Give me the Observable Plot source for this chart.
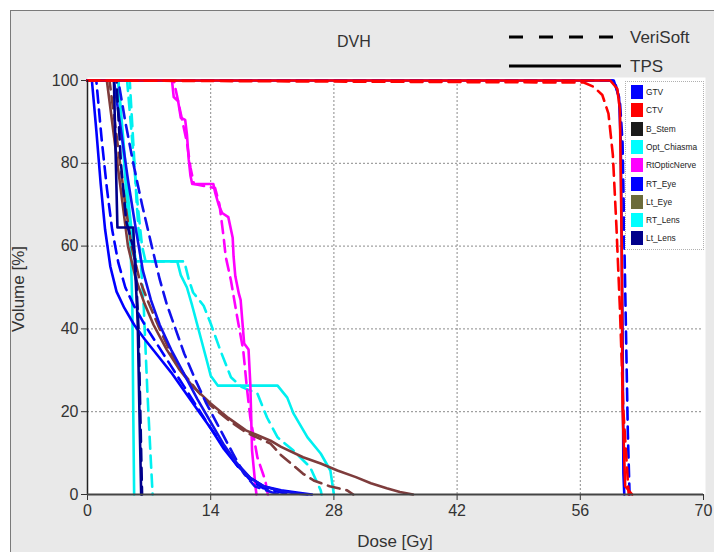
<!DOCTYPE html>
<html><head><meta charset="utf-8">
<script src="https://cdn.jsdelivr.net/npm/d3@7"></script>
<script src="https://cdn.jsdelivr.net/npm/@observablehq/plot@0.6"></script>
<style>
body{margin:0;background:#fff;}
#wrap{position:relative;width:714px;height:552px;overflow:hidden;font-family:"Liberation Sans Narrow","Arial Narrow","Liberation Sans",Arial,sans-serif;}
#panel{position:absolute;left:10px;top:10px;right:0;bottom:0;background:#e9e9e9;border-left:1px solid #7a7a7a;border-top:1px solid #7a7a7a;}
#chart{position:absolute;left:0;top:0;}
.t{position:absolute;color:#333;white-space:nowrap;}
#legend{position:absolute;left:625px;top:81px;width:77px;height:167px;background:#fff;border:1px dotted #b0b0b0;}
.li{position:absolute;left:5px;height:14px;font-size:9.5px;line-height:14px;color:#222;white-space:nowrap;}
.li span.tx{display:inline-block;transform:scaleX(0.88);transform-origin:left center;}
.sw{display:inline-block;width:12px;height:14px;vertical-align:top;margin-right:3px;}
</style></head>
<body><div id="wrap"><div id="panel"></div><div id="chart"></div></div>
<script>
// ---- data (dose Gy, volume %) ----
const xTicks = [0, 14, 28, 42, 56, 70];
const yTicks = [0, 20, 40, 60, 80, 100];
const gridXTicks = [14, 28, 42, 56];
const gridYTicks = [20, 40, 60, 80];

const seriesNames = ["GTV","CTV","B_Stem","Opt_Chiasma","RtOpticNerve","RT_Eye","Lt_Eye","RT_Lens","Lt_Lens"];
const legendColors = ["#0000ff","#ff0000","#1a1a1a","#00ffff","#ff00ff","#0000ff","#6b6b3b","#00ffff","#00008b"];
const lineColors = {GTV:"#0000ff",CTV:"#ff0000",B_Stem:"#7e3c3c",Opt_Chiasma:"#00f0f0",RtOpticNerve:"#ff00ff",RT_Eye:"#0000ff",Lt_Eye:"#1010ee",RT_Lens:"#00f0f0",Lt_Lens:"#00008b"};

const rtEyeTPS = [[0,100],[0.5,100],[1,88],[1.5,75],[2,64],[2.6,55],[3.3,49],[4.2,45],[5.3,41],[6.5,37.5],[8,33.5],[9.5,29.5],[11,25],[12.5,20.5],[14,16],[15.5,11],[17,7],[18.5,4],[20,2],[22,1],[24,0.4],[25.5,0]];
const rtEyeVS  = [[0,100],[1,100],[1.6,86],[2.2,74],[2.8,64],[3.5,56],[4.3,50],[5.3,45.5],[6.5,41],[8,36],[9.5,31],[11,26],[12.5,21],[14,16],[15.5,11.5],[17,7],[18.5,3.5],[20,1.5],[22,0.5],[23,0]];
const ltEyeTPS = [[0,100],[3,100],[3.8,88],[4.6,76],[5.5,64],[6.3,54],[7.2,47],[8.2,41],[9.5,35],[11,29],[12.5,23],[14,17.5],[15.5,12],[17,7.5],[18.5,4],[20,2],[22,0.8],[24,0.2],[25,0]];
const ltEyeVS  = [[0,100],[3.5,100],[4.3,90],[5.2,80],[6.2,70],[7.3,60],[8.2,52],[9,46],[10,40],[11,34],[12.2,28],[13.5,22],[15,16],[16.5,10],[17.8,5],[19,2],[21,0.5],[22,0]];
const bStemTPS = [[0,100],[2.2,100],[2.8,90],[3.4,80],[4,70],[4.6,60],[5.5,52],[6.5,46],[7.5,41],[9,35],[10.5,30],[12,26],[14,22],[16,18.5],[18,15.5],[20.8,13],[22,11.5],[24.5,9],[26.5,7.5],[28.4,5.8],[30.5,4.2],[32.2,2.7],[34,1.5],[35.5,0.6],[37,0]];
const bStemVS  = [[0,100],[2.5,100],[3.1,90],[3.7,80],[4.3,70],[5,60],[5.9,52],[7,46],[8.2,40],[9.5,34],[11,29],[12.5,25],[14,21.5],[16,18],[18,15],[20.8,12.3],[22,9.5],[23.4,7],[24.5,5],[25.7,3.4],[27.5,2],[29.5,1],[30.2,0]];
const chiasmaTPS = [[0,100],[3.5,100],[3.9,90],[4.3,80],[4.7,70],[5.1,62],[5.5,56.3],[10.2,56.3],[10.6,53],[11.3,50],[11.9,45.6],[12.8,38.4],[13.6,32],[14,28.7],[14.8,26.3],[21.6,26.3],[22.7,23.4],[23.4,19.6],[25,13.8],[26.5,9.9],[27.6,5.8],[28,0]];
const chiasmaVS  = [[0,100],[4.5,100],[4.9,90],[5.3,80],[5.7,70],[6.2,60],[6.6,56.3],[11,56.3],[11.5,52],[12,48.8],[13.2,45.6],[14,41.3],[15.1,34.8],[16.3,28.3],[17.5,26],[19.3,24.4],[20.4,18.6],[21.6,13.8],[23.4,10.6],[25.3,6.6],[26.5,1],[26.6,0]];
const nerveTPS = [[0,100],[9.6,100],[9.8,96],[10.3,95],[10.6,91],[11.1,90.5],[11.3,87],[11.5,81],[11.7,77],[11.9,75],[14.3,75],[14.5,73],[14.9,70],[15.3,68],[16,67],[16.5,62],[16.6,57.5],[16.8,52.7],[17.2,48.5],[17.4,47],[17.8,36.5],[18.3,35],[18.5,26.8],[18.7,10.6],[19.1,1.7],[19.2,0]];
const nerveVS  = [[0,100],[9.8,100],[10.3,95],[10.8,90],[11.3,85],[11.7,79],[12.1,75],[14.5,74],[15,70],[15.3,65],[15.5,61.6],[15.7,57.5],[16.3,51.7],[17,43],[17.7,34.8],[18.1,26],[18.5,18.6],[19.3,9],[20.2,3.4],[20.4,1],[20.5,0]];
const rtLensTPS = [[0,100],[3.5,100],[4,85],[4.5,70],[4.9,60],[5.1,45],[5.2,20],[5.3,0]];
const rtLensVS  = [[0,100],[4.8,100],[5.2,85],[5.6,70],[6,58],[6.4,45],[6.8,25],[7.2,8],[7.4,0]];
const ltLensTPS = [[0,100],[3,100],[3.4,64.5],[5.2,64.5],[5.4,55],[5.7,42],[5.9,20],[6.1,0]];
const ltLensVS  = [[0,100],[3.3,100],[3.8,80],[4.4,66],[5.4,58],[5.8,40],[6,20],[6.2,0]];
const gtvTPS = [[0,100],[59.8,100],[60.4,96],[60.6,85],[60.8,40],[60.9,5],[61,0]];
const gtvVS  = [[0,100],[59.9,100],[60.5,95],[60.8,85],[61.1,50],[61.4,15],[61.6,0]];
const ctvTPS = [[0,100],[59.4,100],[60.2,98],[60.5,93],[60.7,61],[60.8,21],[61.1,2],[61.9,0]];
const ctvVS  = [[0,100],[56.4,99.5],[57.5,98.5],[58.5,96.5],[59.2,92],[59.7,82],[60.1,65],[60.5,45],[60.9,20],[61.5,0]];

// drawing order: [organ, source, points]
const drawOrder = [
  ["RT_Lens","VeriSoft",rtLensVS],["RT_Lens","TPS",rtLensTPS],
  ["Opt_Chiasma","VeriSoft",chiasmaVS],["Opt_Chiasma","TPS",chiasmaTPS],
  ["RtOpticNerve","VeriSoft",nerveVS],["RtOpticNerve","TPS",nerveTPS],
  ["B_Stem","VeriSoft",bStemVS],["B_Stem","TPS",bStemTPS],
  ["RT_Eye","VeriSoft",rtEyeVS],["RT_Eye","TPS",rtEyeTPS],
  ["Lt_Eye","VeriSoft",ltEyeVS],["Lt_Eye","TPS",ltEyeTPS],
  ["Lt_Lens","VeriSoft",ltLensVS],["Lt_Lens","TPS",ltLensTPS],
  ["GTV","VeriSoft",gtvVS],["GTV","TPS",gtvTPS],
  ["CTV","VeriSoft",ctvVS],["CTV","TPS",ctvTPS]
];

const W = 714, H = 552;
const lineMarks = drawOrder.map(([organ, src, pts]) =>
  Plot.line(pts.map(([d, v]) => ({dose: d, vol: v})), {
    x: "dose", y: "vol", stroke: lineColors[organ], strokeWidth: 2.6,
    strokeDasharray: src === "VeriSoft" ? "12,7" : null, strokeLinejoin: "round"
  })
);

const chart = Plot.plot({
  width: W, height: H,
  marginLeft: 87, marginRight: 11, marginTop: 80, marginBottom: 58,
  style: {background: "transparent", fontFamily: '"Liberation Sans Narrow","Arial Narrow","Liberation Sans",Arial,sans-serif'},
  x: {domain: [0, 70]},
  y: {domain: [0, 100]},
  marks: [
    Plot.frame({fill: "white", stroke: null, insetTop: -3, insetRight: -2}),
    Plot.gridX(gridXTicks, {stroke: "#8a8a8a", strokeOpacity: 1, strokeDasharray: "2,2"}),
    Plot.gridY(gridYTicks, {stroke: "#8a8a8a", strokeOpacity: 1, strokeDasharray: "2,2"}),
    Plot.axisX(xTicks, {tickSize: 6, tickPadding: 4, fontSize: 16, color: "#333", label: null}),
    Plot.axisY(yTicks, {tickSize: 6, tickPadding: 3, fontSize: 16, color: "#333", label: null}),
    ...lineMarks,
    Plot.ruleX([0], {stroke: "#222", strokeWidth: 1.5}),
    Plot.ruleY([0], {stroke: "#444", strokeWidth: 2})
  ]
});
document.getElementById("chart").appendChild(chart);

const wrap = document.getElementById("wrap");
function addText(txt, left, top, size, extra) {
  const d = document.createElement("div");
  d.className = "t"; d.textContent = txt;
  d.style.left = left + "px"; d.style.top = top + "px";
  d.style.fontSize = size + "px"; d.style.lineHeight = size + "px";
  if (extra) Object.assign(d.style, extra);
  wrap.appendChild(d); return d;
}
addText("DVH", 337, 34, 16);
addText("VeriSoft", 630, 29, 17);
addText("TPS", 630, 58, 17);
addText("Dose [Gy]", 395, 533, 17, {transform: "translateX(-50%)"});
addText("Volume [%]", 18, 289, 17, {transform: "translate(-50%,-50%) rotate(-90deg)"});

// line-style key
const ns = "http://www.w3.org/2000/svg";
const key = document.createElementNS(ns, "svg");
key.setAttribute("width", W); key.setAttribute("height", 80);
key.style.position = "absolute"; key.style.left = "0"; key.style.top = "0";
[["VeriSoft", 37, "14,16"], ["TPS", 66, null]].forEach(([n, y, dash]) => {
  const l = document.createElementNS(ns, "line");
  l.setAttribute("x1", 509); l.setAttribute("x2", 621);
  l.setAttribute("y1", y); l.setAttribute("y2", y);
  l.setAttribute("stroke", "#000"); l.setAttribute("stroke-width", 3);
  if (dash) l.setAttribute("stroke-dasharray", dash);
  key.appendChild(l);
});
wrap.appendChild(key);

// series legend
const leg = document.createElement("div"); leg.id = "legend";
seriesNames.forEach((n, i) => {
  const it = document.createElement("div"); it.className = "li";
  it.style.top = (3 + i * 18.3) + "px";
  const sw = document.createElement("span"); sw.className = "sw"; sw.style.background = legendColors[i];
  const tx = document.createElement("span"); tx.className = "tx"; tx.textContent = n;
  it.appendChild(sw); it.appendChild(tx);
  leg.appendChild(it);
});
wrap.appendChild(leg);
</script></body></html>
